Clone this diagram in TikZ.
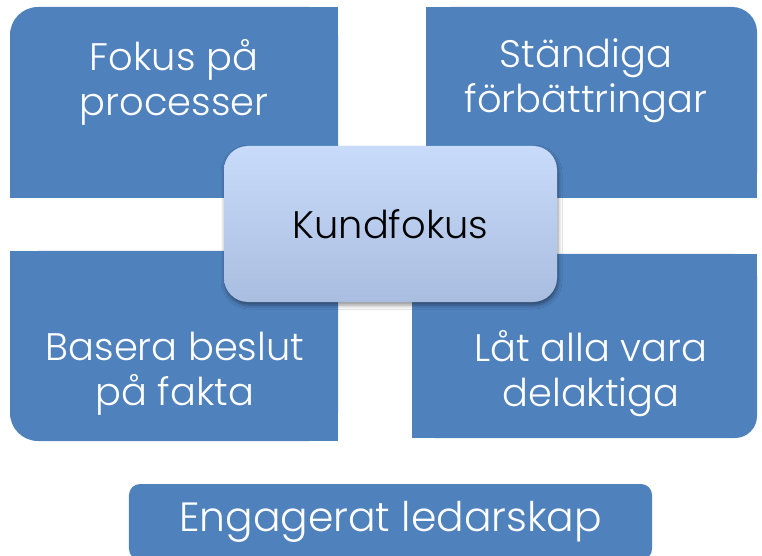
\documentclass[tikz,border=0pt]{standalone}
\usepackage{fontspec}
\newfontfamily\boxfont{Poppins Light}
\usetikzlibrary{shadows.blur}
\definecolor{quadblue}{HTML}{4F81BD}
\definecolor{hubtop}{HTML}{C8DBFA}
\definecolor{hubbottom}{HTML}{A9BDE0}
\tikzset{
  quadtext/.style={text=white, align=center, inner sep=0pt,
    font=\boxfont\fontsize{38.5}{45}\selectfont},
  hub/.style={rounded corners=24bp, minimum width=333bp, minimum height=156bp,
    top color=hubtop, bottom color=hubbottom, inner sep=0pt,
    blur shadow={shadow xshift=1bp, shadow yshift=-3bp, shadow blur radius=4bp, shadow opacity=45},
    font=\boxfont\fontsize{38.5}{45}\selectfont},
  basebox/.style={fill=quadblue, rounded corners=11bp, minimum width=523bp,
    minimum height=76bp, text=white, inner sep=0pt,
    font=\boxfont\fontsize{41}{48}\selectfont}
}
\begin{document}
\begin{tikzpicture}[x=1bp,y=-1bp]
\useasboundingbox (0,0) rectangle (762,556);
\fill[white] (0,0) rectangle (762,556);
% quadrants: one rounded outer corner each
\begin{scope}[fill=quadblue]
  % top left
  \fill[rounded corners=28bp] (10,7) rectangle (338,198);
  \fill (60,7) rectangle (338,198);
  \fill (10,60) rectangle (338,198);
  % top right
  \fill[rounded corners=25bp] (426,7) rectangle (757,198);
  \fill (426,7) rectangle (700,198);
  \fill (426,60) rectangle (757,198);
  % bottom left
  \fill[rounded corners=28bp] (10,251) rectangle (338,441);
  \fill (60,251) rectangle (338,441);
  \fill (10,251) rectangle (338,390);
  % bottom right
  \fill[rounded corners=22bp] (412,254) rectangle (757,438);
  \fill (412,254) rectangle (700,438);
  \fill (412,254) rectangle (757,390);
\end{scope}
\node[quadtext] (process) at (174,82) {Fokus på\\processer};
\node[quadtext] (improve) at (586,81) {Ständiga\\förbättringar};
\node[quadtext] (facts) at (175,374) {Basera beslut\\på fakta};
\node[quadtext] (involve) at (591,374) {Låt alla vara\\delaktiga};
\node[hub] (customer) at (390.5,224) {Kundfokus};
\node[basebox] (lead) at (390.5,522) {Engagerat ledarskap};
\end{tikzpicture}
\end{document}
